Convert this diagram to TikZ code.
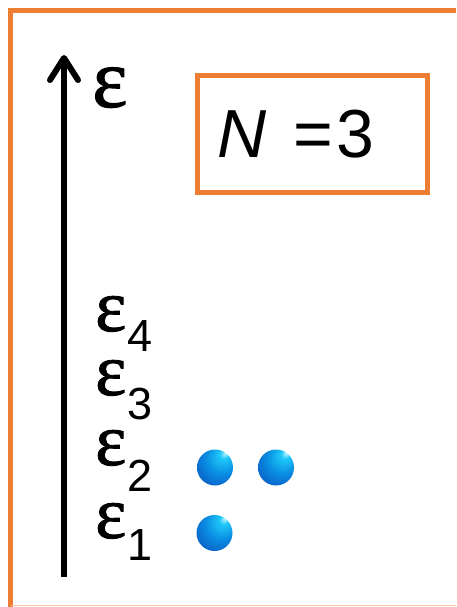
\documentclass[tikz,border=0pt]{standalone}
\usepackage{fontspec}
\setmainfont{Liberation Sans}
\newfontfamily\epsfont{Liberation Serif}[BoldFont={Liberation Serif},BoldFeatures={FakeBold=1.2}]
\usetikzlibrary{arrows.meta}
\definecolor{frameorange}{HTML}{ED7D31}
\definecolor{ballhi}{RGB}{190,245,255}
\definecolor{ballcy}{RGB}{30,200,250}
\definecolor{ballmid}{RGB}{10,140,225}
\definecolor{balldk}{RGB}{10,80,190}
\definecolor{balledge}{RGB}{5,40,140}
\pgfdeclareradialshading{eball}{\pgfpoint{14bp}{20bp}}{color(0bp)=(ballhi); color(6bp)=(ballcy); color(22bp)=(ballmid); color(42bp)=(balldk); color(60bp)=(balledge)}
\newcommand\levelsub[2]{\kern1pt\raisebox{-#1pt}{\normalfont\fontsize{45}{45}\selectfont #2}}
\tikzset{
  frameline/.style={draw=frameorange, line width=5pt},
  axisline/.style={line width=6pt, -{Straight Barb[length=22pt,width=28pt,line cap=round,line join=round]}},
  levellabel/.style={anchor=base west, inner sep=0pt, text height=32pt, text depth=24pt, font=\epsfont\bfseries\fontsize{74}{74}\selectfont},
  electron/.style={circle, minimum size=36pt, inner sep=0pt, shading=eball},
}
\begin{document}
\begin{tikzpicture}[x=1pt,y=-1pt]
\useasboundingbox (0,0) rectangle (456,607);
\fill[white] (0,0) rectangle (456,607);
% frame
\draw[frameline] (456,10.5) -- (10.5,10.5) -- (10.5,607);
\draw[draw=frameorange!45, line width=1.5pt] (10.5,605.5) -- (456,605.5);
% axis
\coordinate (axbot) at (64,577);
\coordinate (axtop) at (64,55);
\draw[axisline] (axbot) -- (axtop);
\node[anchor=base west, inner sep=0pt, font=\epsfont\bfseries\fontsize{84}{84}\selectfont] (eaxis) at (92,107) {ε};
% N box
\node[frameline, minimum width=230pt, minimum height=117pt, inner sep=0pt] (nbox) at (312.5,134) {};
\node[anchor=base west, inner sep=0pt, font=\fontsize{68}{68}\selectfont] (ntext) at (217,157) {\textit{N}\hspace{27pt}=\hspace{3pt}3};
% levels
\node[levellabel] (e4) at (95,331) {ε\levelsub{20}{4}};
\node[levellabel] (e3) at (95,395) {ε\levelsub{24}{3}};
\node[levellabel] (e2) at (95,465) {ε\levelsub{26}{2}};
\node[levellabel] (e1) at (95,538) {ε\levelsub{22}{1}};
% electrons
\node[electron] (b1) at (215,467.5) {};
\node[electron] (b2) at (276,467.5) {};
\node[electron] (b3) at (214.5,533) {};
\end{tikzpicture}
\end{document}
